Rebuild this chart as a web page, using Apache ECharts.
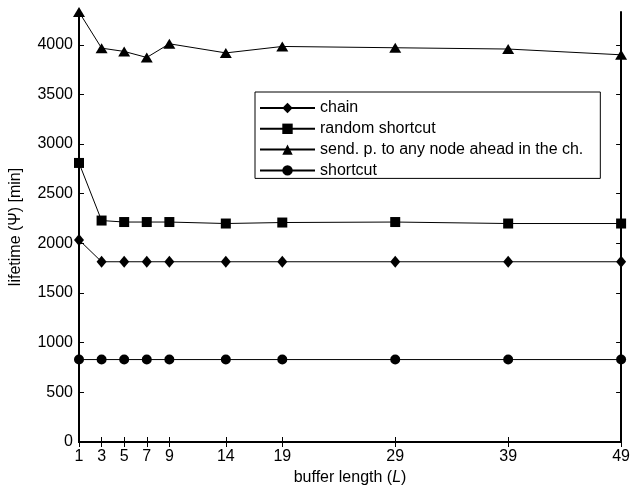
<!DOCTYPE html>
<html>
<head>
<meta charset="utf-8">
<script src="https://cdn.jsdelivr.net/npm/echarts@6/dist/echarts.min.js"></script>
<style>
html,body{margin:0;padding:0;background:#fff;}
#chart{width:633px;height:493px;}
</style>
</head>
<body>
<div id="chart"></div>
<script>
const bufferLength = [1, 3, 5, 7, 9, 14, 19, 29, 39, 49];
const xTickValues = [1, 3, 5, 7, 9, 14, 19, 29, 39, 49];
const yTickValues = [0, 500, 1000, 1500, 2000, 2500, 3000, 3500, 4000];
const chain = [2035, 1815, 1815, 1815, 1815, 1815, 1815, 1815, 1815, 1815];
const randomShortcut = [2810, 2230, 2215, 2215, 2215, 2200, 2210, 2215, 2200, 2200];
const sendAhead = [4330, 3966, 3933, 3872, 4010, 3918, 3983, 3970, 3957, 3899];
const shortcut = [830, 830, 830, 830, 830, 830, 830, 830, 830, 830];
const seriesNames = ['chain', 'random shortcut', 'send. p. to any node ahead in the ch.', 'shortcut'];
const xMin = 1, xMax = 49, yMin = 0, yMax = 4330;

const FONT = "'Liberation Sans', Arial, Helvetica, sans-serif";
const FS = 16;

function pairs(ys) { return bufferLength.map((x, i) => [x, ys[i]]); }

const axisLineStyle = { show: true, lineStyle: { color: '#000', width: 2 } };
const tickStyle = { show: true, inside: true, length: 5, lineStyle: { color: '#000', width: 1 } };

function mkSeries(name, data, symbol, size) {
  return {
    name: name, type: 'line', data: pairs(data),
    symbol: symbol, symbolSize: size, showAllSymbol: true, clip: false,
    lineStyle: { color: '#000', width: 1 },
    itemStyle: { color: '#000' },
    emphasis: { disabled: true }
  };
}

const chart = echarts.init(document.getElementById('chart'), null, { renderer: 'canvas' });
chart.setOption({
  animation: false,
  backgroundColor: '#fff',
  textStyle: { fontFamily: FONT, color: '#000' },
  grid: { left: 78, right: 9, top: 12, bottom: 51, containLabel: false },
  legend: {
    show: true, orient: 'vertical', left: 255, top: 92,
    data: seriesNames,
    itemWidth: 55, itemHeight: 13, itemGap: 4.8,
    padding: [8, 17, 0, 4],
    backgroundColor: '#fff', borderColor: '#000', borderWidth: 1, borderRadius: 0,
    textStyle: { fontFamily: FONT, fontSize: FS, color: '#000' },
    selectedMode: false
  },
  xAxis: [{
    type: 'value', min: xMin, max: xMax, position: 'bottom',
    name: 'buffer length ({i|L})', nameLocation: 'middle', nameGap: 26,
    nameTextStyle: { fontFamily: FONT, fontSize: FS, color: '#000', rich: { i: { fontStyle: 'italic', fontFamily: FONT, fontSize: FS, color: '#000' } } },
    axisLine: axisLineStyle,
    axisTick: Object.assign({ customValues: xTickValues }, tickStyle),
    axisLabel: { customValues: xTickValues, margin: 7, fontFamily: FONT, fontSize: FS, color: '#000', formatter: v => String(v) },
    splitLine: { show: false }
  }, {
    type: 'value', min: xMin, max: xMax, position: 'top',
    axisLine: axisLineStyle,
    axisTick: Object.assign({ customValues: xTickValues }, tickStyle),
    axisLabel: { show: false },
    splitLine: { show: false }
  }],
  yAxis: [{
    type: 'value', min: yMin, max: yMax, position: 'left',
    name: 'lifetime (\u03A8) [min]', nameLocation: 'middle', nameGap: 55,
    nameTextStyle: { fontFamily: FONT, fontSize: FS, color: '#000' },
    axisLine: axisLineStyle,
    axisTick: Object.assign({ customValues: yTickValues }, tickStyle),
    axisLabel: { customValues: yTickValues, margin: 6, fontFamily: FONT, fontSize: FS, color: '#000', formatter: v => String(v) },
    splitLine: { show: false }
  }, {
    type: 'value', min: yMin, max: yMax, position: 'right',
    axisLine: axisLineStyle,
    axisTick: Object.assign({ customValues: yTickValues }, tickStyle),
    axisLabel: { show: false },
    splitLine: { show: false }
  }],
  series: [
    mkSeries(seriesNames[0], chain, 'diamond', [10, 12]),
    mkSeries(seriesNames[1], randomShortcut, 'rect', 10),
    mkSeries(seriesNames[2], sendAhead, 'triangle', [12, 10]),
    mkSeries(seriesNames[3], shortcut, 'circle', 10)
  ]
});
</script>
</body>
</html>
